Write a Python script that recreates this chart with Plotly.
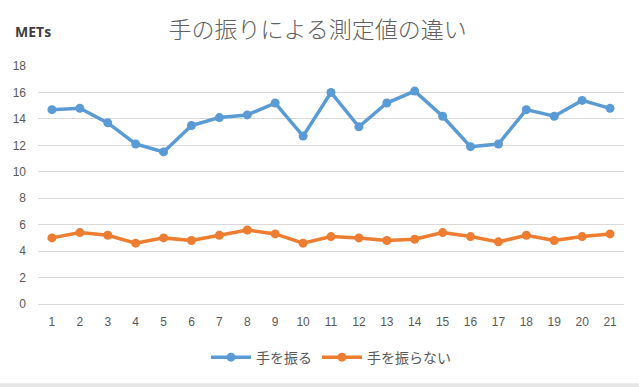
import plotly.graph_objects as go

categories = [str(i) for i in range(1, 22)]
swing = [14.7, 14.8, 13.7, 12.1, 11.5, 13.5, 14.1, 14.3, 15.2, 12.7, 16.0,
         13.4, 15.2, 16.1, 14.2, 11.9, 12.1, 14.7, 14.2, 15.4, 14.8]
no_swing = [5.0, 5.4, 5.2, 4.6, 5.0, 4.8, 5.2, 5.6, 5.3, 4.6, 5.1,
            5.0, 4.8, 4.9, 5.4, 5.1, 4.7, 5.2, 4.8, 5.1, 5.3]
y_ticks = list(range(0, 19, 2))

font_main = "Noto Sans CJK JP"
grey = "#595959"

fig = go.Figure()
fig.add_trace(go.Scatter(x=categories, y=swing, name="手を振る", mode="lines+markers",
                         line=dict(color="#5B9BD5", width=3.5),
                         marker=dict(size=9, color="#5B9BD5")))
fig.add_trace(go.Scatter(x=categories, y=no_swing, name="手を振らない", mode="lines+markers",
                         line=dict(color="#ED7D31", width=3.5),
                         marker=dict(size=9, color="#ED7D31")))

fig.update_layout(
    width=639, height=387,
    margin=dict(l=38, r=15, t=66, b=83),
    paper_bgcolor="white", plot_bgcolor="white",
    font=dict(family=font_main, color=grey, size=12),
    title=dict(text="手の振りによる測定値の違い", x=0.497, xanchor="center",
               y=0.922, yanchor="middle",
               font=dict(size=23, color="#606060", family=font_main, weight=300)),
    showlegend=True,
    legend=dict(orientation="h", x=0.5, xanchor="center", y=-0.225, yanchor="middle",
                itemwidth=40,
                font=dict(size=14, color=grey, family=font_main)),
    xaxis=dict(type="category", range=[-0.5, 20.5], showgrid=False, showline=False,
               ticks="", ticklabelstandoff=9,
               tickfont=dict(family="Liberation Sans", size=12, color=grey)),
    yaxis=dict(range=[0, 18], tickvals=y_ticks, showgrid=True, gridcolor="#d9d9d9",
               gridwidth=1, zeroline=True, zerolinecolor="#d9d9d9", zerolinewidth=1,
               ticks="", ticklabelstandoff=11,
               tickfont=dict(family="Liberation Sans", size=12, color=grey)),
    annotations=[dict(text="<b>METs</b>", xref="paper", yref="paper", x=-0.043, y=1.143,
                      xanchor="left", yanchor="middle", showarrow=False,
                      font=dict(size=14, color="#404040", family="Open Sans"))],
    shapes=[dict(type="rect", xref="paper", yref="paper", x0=-0.1, x1=1.1,
                 y0=-0.333, y1=-0.35, line=dict(width=0), fillcolor="#e6e6e6")],
)

fig.write_html("out.html")
